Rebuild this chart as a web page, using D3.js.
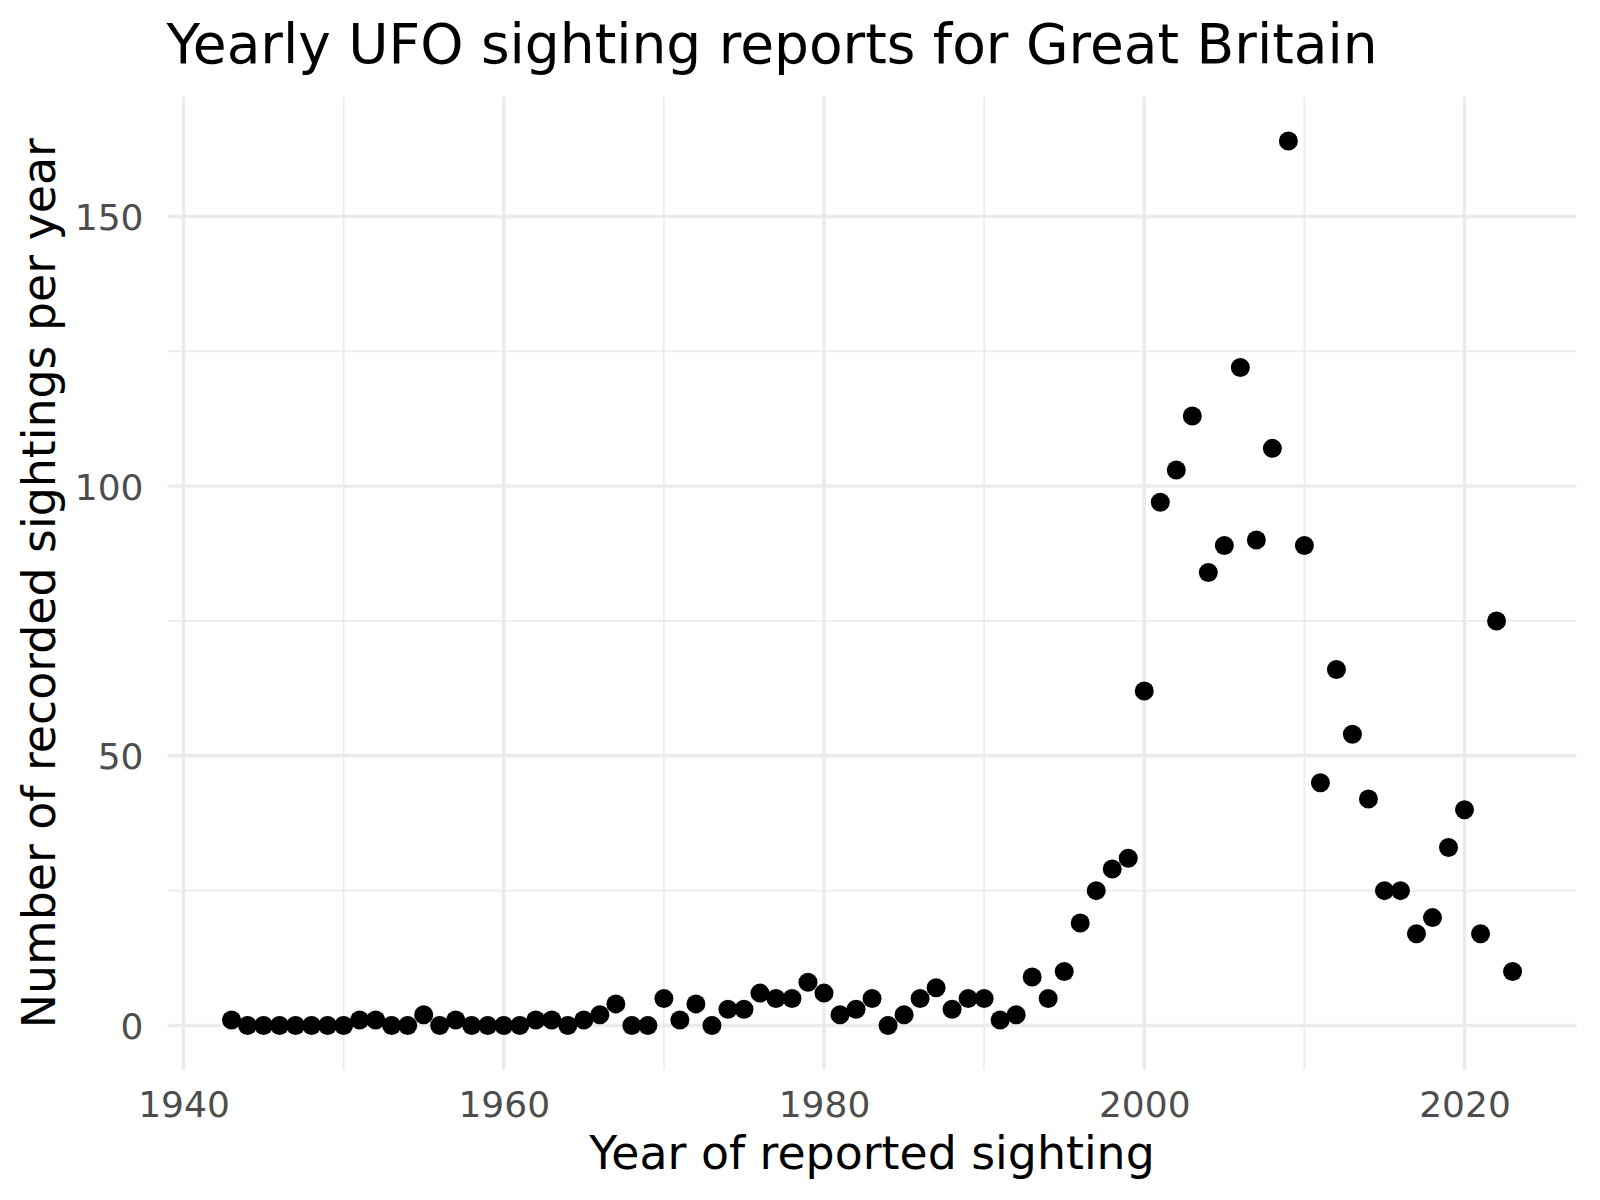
<!DOCTYPE html>
<html>
<head>
<meta charset="utf-8">
<script src="https://cdn.jsdelivr.net/npm/d3@7"></script>
<style>
  html, body { margin: 0; padding: 0; background: #fff; }
  svg { display: block; font-family: "DejaVu Sans", sans-serif; }
</style>
</head>
<body>
<svg id="chart" width="1600" height="1200"></svg>
<script>
// Data
const years = [1943,1944,1945,1946,1947,1948,1949,1950,1951,1952,1953,1954,1955,1956,1957,1958,1959,1960,1961,1962,1963,1964,1965,1966,1967,1968,1969,1970,1971,1972,1973,1974,1975,1976,1977,1978,1979,1980,1981,1982,1983,1984,1985,1986,1987,1988,1989,1990,1991,1992,1993,1994,1995,1996,1997,1998,1999,2000,2001,2002,2003,2004,2005,2006,2007,2008,2009,2010,2011,2012,2013,2014,2015,2016,2017,2018,2019,2020,2021,2022,2023];
const sightings = [1,0,0,0,0,0,0,0,1,1,0,0,2,0,1,0,0,0,0,1,1,0,1,2,4,0,0,5,1,4,0,3,3,6,5,5,8,6,2,3,5,0,2,5,7,3,5,5,1,2,9,5,10,19,25,29,31,62,97,103,113,84,89,122,90,107,164,89,45,66,54,42,25,25,17,20,33,40,17,75,10];
const xMajorTicks = [1940, 1960, 1980, 2000, 2020];
const xMinorTicks = [1950, 1970, 1990, 2010];
const yMajorTicks = [0, 50, 100, 150];
const yMinorTicks = [25, 75, 125];
const titleText = "Yearly UFO sighting reports for Great Britain";
const xTitle = "Year of reported sighting";
const yTitle = "Number of recorded sightings per year";

const svg = d3.select("#chart");
const panel = { left: 167.5, right: 1576.6, top: 96.7, bottom: 1069.7 };

const x = d3.scaleLinear().domain([1939, 2027]).range([panel.left, panel.right]);
const y = d3.scaleLinear().domain([-8.2, 172.2]).range([panel.bottom, panel.top]);

const grid = "#EBEBEB";
// minor grid
svg.append("g").selectAll("line").data(xMinorTicks).join("line")
  .attr("x1", d => x(d)).attr("x2", d => x(d))
  .attr("y1", panel.top).attr("y2", panel.bottom)
  .attr("stroke", grid).attr("stroke-width", 1.7);
svg.append("g").selectAll("line").data(yMinorTicks).join("line")
  .attr("x1", panel.left).attr("x2", panel.right)
  .attr("y1", d => y(d)).attr("y2", d => y(d))
  .attr("stroke", grid).attr("stroke-width", 1.7);
// major grid
svg.append("g").selectAll("line").data(xMajorTicks).join("line")
  .attr("x1", d => x(d)).attr("x2", d => x(d))
  .attr("y1", panel.top).attr("y2", panel.bottom)
  .attr("stroke", grid).attr("stroke-width", 3.4);
svg.append("g").selectAll("line").data(yMajorTicks).join("line")
  .attr("x1", panel.left).attr("x2", panel.right)
  .attr("y1", d => y(d)).attr("y2", d => y(d))
  .attr("stroke", grid).attr("stroke-width", 3.4);

// axes
const xAxis = svg.append("g")
  .attr("transform", `translate(0,${panel.bottom})`)
  .call(d3.axisBottom(x).tickValues(xMajorTicks).tickFormat(d3.format("d")).tickSize(0));
xAxis.select(".domain").remove();
xAxis.selectAll("text")
  .attr("y", 47.5).attr("dy", 0)
  .attr("fill", "#4D4D4D")
  .style("font-size", "36px").style("font-family", "DejaVu Sans");

const yAxis = svg.append("g")
  .attr("transform", `translate(${panel.left},0)`)
  .call(d3.axisLeft(y).tickValues(yMajorTicks).tickFormat(d3.format("d")).tickSize(0));
yAxis.select(".domain").remove();
yAxis.selectAll("text")
  .attr("x", -24).attr("dy", "0.365em")
  .attr("fill", "#4D4D4D")
  .style("font-size", "36px").style("font-family", "DejaVu Sans");

// points
svg.append("g").selectAll("circle")
  .data(years.map((yr, i) => ({ yr, v: sightings[i] })))
  .join("circle")
  .attr("cx", d => x(d.yr))
  .attr("cy", d => y(d.v))
  .attr("r", 9.5)
  .attr("fill", "#000");

// titles
svg.append("text")
  .attr("x", panel.left - 1).attr("y", 63.3)
  .attr("fill", "#000")
  .style("font-size", "55px")
  .text(titleText);

svg.append("text")
  .attr("x", (panel.left + panel.right) / 2).attr("y", 1169)
  .attr("text-anchor", "middle")
  .attr("fill", "#000")
  .style("font-size", "45.8px")
  .text(xTitle);

svg.append("text")
  .attr("transform", `translate(55,${(panel.top + panel.bottom) / 2}) rotate(-90)`)
  .attr("text-anchor", "middle")
  .attr("fill", "#000")
  .style("font-size", "45.8px")
  .text(yTitle);
</script>
</body>
</html>
